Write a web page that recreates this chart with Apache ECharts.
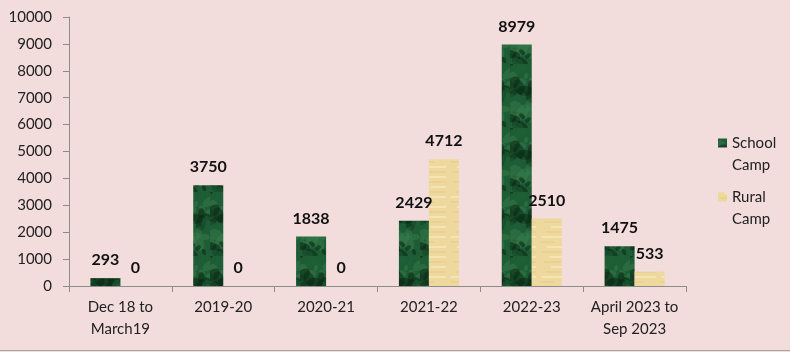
<!DOCTYPE html>
<html>
<head>
<meta charset="utf-8">
<script src="https://cdn.jsdelivr.net/npm/echarts@6/dist/echarts.min.js"></script>
<style>
html,body{margin:0;padding:0;background:#f2dcdc;}
#c{width:790px;height:352px;}
</style>
</head>
<body>
<div id="c"></div>
<script>
const categories = ['Dec 18 to\nMarch19', '2019-20', '2020-21', '2021-22', '2022-23', 'April 2023 to\nSep 2023'];
const schoolCamp = [293, 3750, 1838, 2429, 8979, 1475];
const ruralCamp = [0, 0, 0, 4712, 2510, 533];
const yTicks = [0, 1000, 2000, 3000, 4000, 5000, 6000, 7000, 8000, 9000, 10000];

function makeGreen() {
  const c = document.createElement('canvas');
  c.width = 30; c.height = 64;
  const g = c.getContext('2d');
  g.fillStyle = '#1f5c35'; g.fillRect(0, 0, 30, 64);
  for (let i = 0; i < 40; i++) {
    const x = (i * 37) % 30, y = (i * 53) % 64;
    const r = 2 + (i % 4);
    g.fillStyle = i % 3 === 0 ? 'rgba(10,40,20,0.55)' : (i % 3 === 1 ? 'rgba(60,130,80,0.4)' : 'rgba(30,95,55,0.5)');
    g.beginPath(); g.ellipse(x, y, r * 1.6, r, (i % 5) * 0.6, 0, Math.PI * 2); g.fill();
  }
  return c;
}
function makeTan() {
  const c = document.createElement('canvas');
  c.width = 30; c.height = 40;
  const g = c.getContext('2d');
  g.fillStyle = '#eed89e'; g.fillRect(0, 0, 30, 40);
  for (let i = 0; i < 8; i++) {
    g.fillStyle = i % 2 ? 'rgba(250,236,195,0.6)' : 'rgba(225,195,130,0.3)';
    g.fillRect((i * 7) % 12, i * 5 + 1, 14 + (i * 5) % 12, 2);
  }
  return c;
}

const chart = echarts.init(document.getElementById('c'), null, {renderer: 'canvas'});
const font = 'Lato, "Open Sans", sans-serif';
const labelCfg = {
  show: true, position: 'top', distance: 10,
  fontFamily: font, fontWeight: 'bold', fontSize: 16, color: '#111'
};
chart.setOption({
  backgroundColor: '#f2dcdc',
  animation: false,
  grid: {left: 69, right: 104, top: 17, bottom: 66},
  legend: {
    orient: 'vertical', left: 713, top: 127,
    itemWidth: 9, itemHeight: 44, itemGap: 10,
    icon: 'path://M0,0h0.01v0.01h-0.01z M0,6.5h9v9h-9z M0,44h0.01v0.01h-0.01z',
    formatter: function (n) { return n.replace(' ', '\n'); },
    textStyle: {fontFamily: font, fontSize: 15, color: '#222', lineHeight: 22},
    data: ['School Camp', 'Rural Camp']
  },
  xAxis: {
    type: 'category', data: categories,
    axisLine: {lineStyle: {color: '#8c8c8c', width: 1}},
    axisTick: {show: true, length: 6, lineStyle: {color: '#8c8c8c'}},
    axisLabel: {interval: 0, fontFamily: font, fontSize: 15, color: '#222', lineHeight: 22, margin: 10}
  },
  yAxis: {
    type: 'value', min: 0, max: 10000, interval: 1000,
    axisLine: {show: true, lineStyle: {color: '#8c8c8c', width: 1}},
    axisTick: {show: true, length: 6, lineStyle: {color: '#8c8c8c'}},
    splitLine: {show: false},
    axisLabel: {fontFamily: font, fontSize: 15, color: '#222', margin: 17,
      formatter: function (v) { return yTicks.indexOf(v) >= 0 ? String(v) : ''; }}
  },
  series: [
    {name: 'School Camp', type: 'bar', data: schoolCamp, barWidth: 30, barGap: '0%',
     itemStyle: {color: {image: makeGreen(), repeat: 'repeat'}}, label: labelCfg},
    {name: 'Rural Camp', type: 'bar', data: ruralCamp, barWidth: 30,
     itemStyle: {color: {image: makeTan(), repeat: 'repeat'}}, label: labelCfg}
  ],
  graphic: [{type: 'line', shape: {x1: 0, y1: 350.5, x2: 790, y2: 350.5},
    style: {stroke: '#a6a6a6', lineWidth: 1}, silent: true}]
});
</script>
</body>
</html>
